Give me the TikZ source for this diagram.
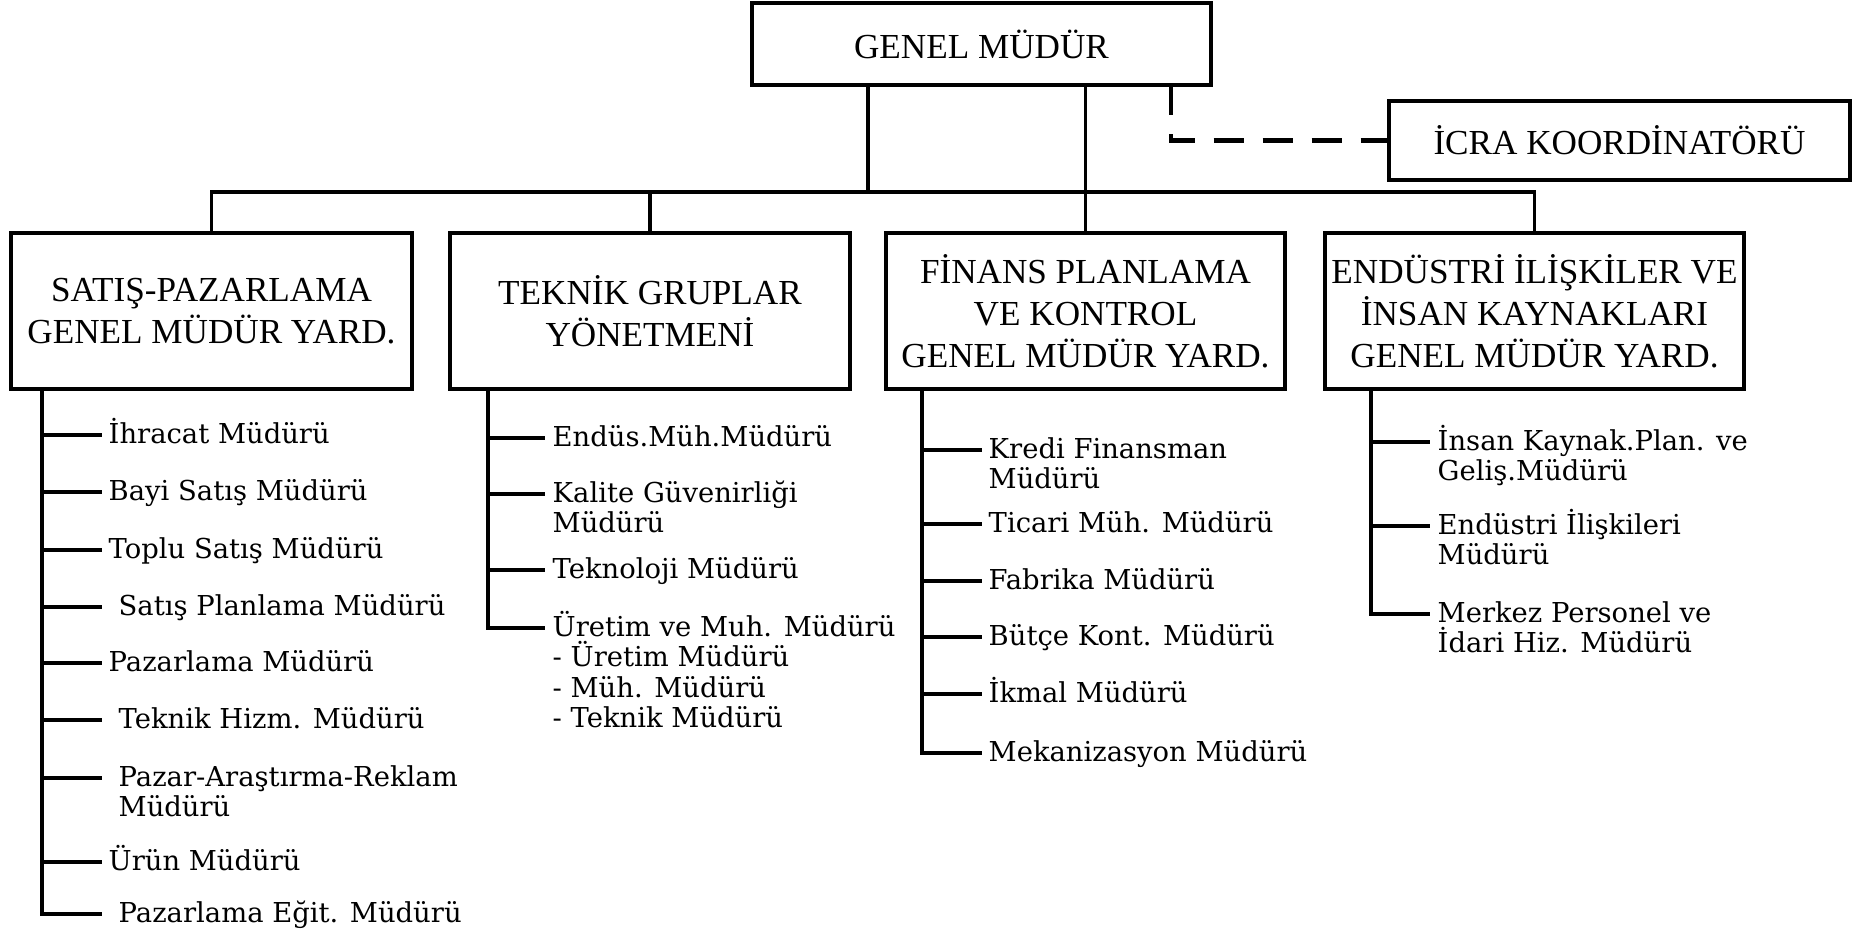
\documentclass[tikz,border=0pt]{standalone}
\usepackage{fontspec}
\setmainfont{Liberation Serif}
\newfontfamily\itemfont{DejaVu Serif}
\usetikzlibrary{positioning}

\begin{document}
\begin{tikzpicture}[
			box/.style={draw, line width=1.15pt, rectangle, minimum width=4cm, minimum height=1.56cm, inner sep=0pt, outer sep=0pt, align=center, font=\fontsize{10}{12}\selectfont},
			line/.style={line width=1pt},
			dashline/.style={line width=1.2pt, dash pattern=on 0.3cm off 0.19cm},
			branch/.style={line width=1.2pt, line cap=rect},
			tick/.style={line width=1pt},
			item/.style={anchor=north west, align=left, inner sep=0pt, font=\itemfont\fontsize{7.8}{8.6}\selectfont}
		]
		\useasboundingbox (0,0) rectangle (18.65,-9.37);

		% Draw the boxes
		\node[box, minimum width=4.59cm, minimum height=0.82cm] (gm) at (9.815,-0.44) {GENEL MÜDÜR};
		\node[box, minimum width=4.61cm, minimum height=0.79cm] (icra) at (16.195,-1.405) {İCRA KOORDİNATÖRÜ};
		\node[box, minimum width=4.01cm] (satis) at (2.115,-3.11) {SATIŞ-PAZARLAMA\\GENEL MÜDÜR YARD.};
		\node[box, right=0.38cm of satis] (teknik) {TEKNİK GRUPLAR\\YÖNETMENİ};
		\node[box, minimum width=3.99cm, right=0.36cm of teknik] (finans) {FİNANS PLANLAMA\\VE KONTROL\\GENEL MÜDÜR YARD.};
		\node[box, minimum width=4.19cm, right=0.40cm of finans] (endustri) {ENDÜSTRİ İLİŞKİLER VE\\İNSAN KAYNAKLARI\\GENEL MÜDÜR YARD.};

		% Draw the lines
		\coordinate (bar) at (0,-1.92);
		\coordinate (gml) at ([xshift=-1.135cm]gm.south);
		\draw[line] (gml) -- (gml |- bar);
		\draw[line] (gm.south -| finans.north) -- (finans.north);
		\draw[line] (satis.north) -- (satis.north |- bar) -- (endustri.north |- bar) -- (endustri.north);
		\draw[line] (teknik.north) -- (teknik.north |- bar);
		\draw[dashline] ([xshift=-4mm]gm.south east) |- (icra.west);

		% Satis-Pazarlama
		\coordinate (sv) at ([xshift=3.1mm]satis.south west);
		\foreach \yt/\xo/\txt [count=\i] in {
			4.35/0.06/{İhracat Müdürü},
			4.92/0.06/{Bayi Satış Müdürü},
			5.50/0.06/{Toplu Satış Müdürü},
			6.07/0.16/{Satış Planlama Müdürü},
			6.63/0.06/{Pazarlama Müdürü},
			7.20/0.16/{Teknik Hizm. Müdürü},
			7.78/0.16/{Pazar-Araştırma-Reklam\\Müdürü},
			8.62/0.06/{Ürün Müdürü},
			9.14/0.16/{Pazarlama Eğit. Müdürü}}{
			\coordinate (sk\i) at (1.02,-\yt);
			\node[item] (si\i) at ([shift={(\xo,0.2375)}]sk\i) {\rule{0pt}{9pt}\txt};
			\draw[tick] (sk\i -| sv) -- (sk\i);
		}
		\draw[branch] (sv) -- (sv |- sk9);

		% Teknik Gruplar
		\coordinate (tv) at ([xshift=3.8mm]teknik.south west);
		\foreach \yt/\txt [count=\i] in {
			4.38/{Endüs.Müh.Müdürü},
			4.94/{Kalite Güvenirliği\\Müdürü},
			5.70/{Teknoloji Müdürü},
			6.28/{Üretim ve Muh. Müdürü\\- Üretim Müdürü\\- Müh. Müdürü\\- Teknik Müdürü}}{
			\coordinate (tk\i) at (5.45,-\yt);
			\node[item] (ti\i) at ([shift={(0.07,0.2375)}]tk\i) {\rule{0pt}{9pt}\txt};
			\draw[tick] (tk\i -| tv) -- (tk\i);
		}
		\draw[branch] (tv) -- (tv |- tk4);

		% Finans Planlama
		\coordinate (fv) at ([xshift=3.6mm]finans.south west);
		\foreach \yt/\txt [count=\i] in {
			4.50/{Kredi Finansman\\Müdürü},
			5.24/{Ticari Müh. Müdürü},
			5.81/{Fabrika Müdürü},
			6.37/{Bütçe Kont. Müdürü},
			6.94/{İkmal Müdürü},
			7.53/{Mekanizasyon Müdürü}}{
			\coordinate (fk\i) at (9.82,-\yt);
			\node[item] (fi\i) at ([shift={(0.06,0.2375)}]fk\i) {\rule{0pt}{9pt}\txt};
			\draw[tick] (fk\i -| fv) -- (fk\i);
		}
		\draw[branch] (fv) -- (fv |- fk6);

		% Endustri Iliskiler
		\coordinate (ev) at ([xshift=4.6mm]endustri.south west);
		\foreach \yt/\txt [count=\i] in {
			4.42/{İnsan Kaynak.Plan. ve\\Geliş.Müdürü},
			5.26/{Endüstri İlişkileri\\Müdürü},
			6.14/{Merkez Personel ve\\İdari Hiz. Müdürü}}{
			\coordinate (ek\i) at (14.30,-\yt);
			\node[item] (ei\i) at ([shift={(0.07,0.2375)}]ek\i) {\rule{0pt}{9pt}\txt};
			\draw[tick] (ek\i -| ev) -- (ek\i);
		}
		\draw[branch] (ev) -- (ev |- ek3);

		\end{tikzpicture}
\end{document}
